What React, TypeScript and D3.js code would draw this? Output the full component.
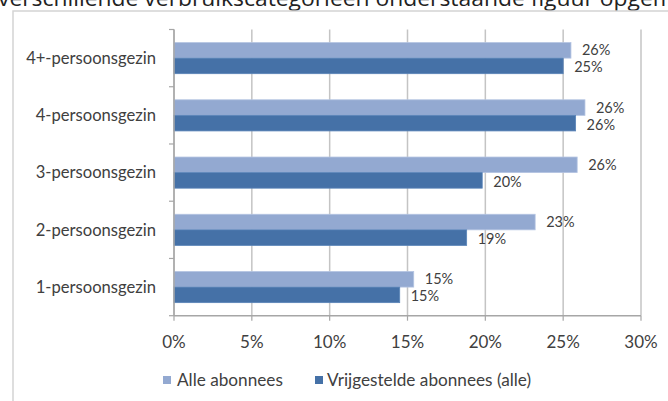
import React from "react";
import * as d3 from "d3";

const categories = ["4+-persoonsgezin", "4-persoonsgezin", "3-persoonsgezin", "2-persoonsgezin", "1-persoonsgezin"];
const seriesNames = ["Alle abonnees", "Vrijgestelde abonnees (alle)"];
const alleValues = [25.5, 26.4, 25.9, 23.2, 15.4];
const vrijValues = [25.0, 25.8, 19.8, 18.8, 14.5];
const xTicks = [0, 5, 10, 15, 20, 25, 30];
const headerText = "verschillende verbruikscategorieën  onderstaande  figuur opgem";

const W = 668, H = 401;
const colors = ["#93a9d1", "#4571a7"];
const FONT = "Lato, 'Open Sans', sans-serif";

export default function App() {
  const x = d3.scaleLinear().domain([0, 30]).range([174, 641]);
  const y = d3.scaleBand<string>().domain(categories).range([29.5, 315.7]).paddingInner(0.456).paddingOuter(0.228);
  const sub = d3.scaleBand<number>().domain([0, 1]).range([0, y.bandwidth()]);
  const series = [alleValues, vrijValues];
  const [y0, y1] = y.range();
  const step = y.step();
  const boundaries = d3.range(categories.length + 1).map((i) => y0 + i * step);

  return (
    <svg width={W} height={H} style={{ position: "absolute", left: 0, top: 0, background: "#fff" }}>
      <text x={-2} y={6} fontFamily="'Open Sans', sans-serif" fontSize={22} fill="#222" textLength={676} lengthAdjust="spacingAndGlyphs">
        {headerText}
      </text>
      <rect x={13} y={11} width={700} height={420} fill="#fff" stroke="#d4d4d4" strokeWidth={1.5} />
      {xTicks.map((t) => (
        <line key={"g" + t} x1={x(t)} x2={x(t)} y1={y0} y2={y1} stroke="#c4c4c4" strokeWidth={1.5} />
      ))}
      {series.map((vals, si) =>
        categories.map((c, ci) => (
          <rect
            key={si + "-" + ci}
            x={x(0)}
            y={(y(c) as number) + (sub(si) as number)}
            width={x(vals[ci]) - x(0)}
            height={sub.bandwidth()}
            fill={colors[si]}
            stroke={si === 0 ? "#b4c4e2" : "#5a84b8"}
            strokeWidth={0.8}
          />
        ))
      )}
      {series.map((vals, si) =>
        categories.map((c, ci) => (
          <text
            key={"l" + si + "-" + ci}
            x={x(vals[ci]) + 11}
            y={(y(c) as number) + (sub(si) as number) + sub.bandwidth() / 2 + (si === 0 ? 0 : 1.5)}
            dy="0.35em"
            fontFamily={FONT}
            fontSize={14.5}
            fill="#404040"
          >
            {Math.round(vals[ci]) + "%"}
          </text>
        ))
      )}
      {/* axes */}
      <line x1={x(0)} x2={x(0)} y1={y0} y2={y1} stroke="#a6a6a6" strokeWidth={1.5} />
      {boundaries.map((b, i) => (
        <line key={"yt" + i} x1={x(0) - 5} x2={x(0)} y1={b} y2={b} stroke="#a6a6a6" strokeWidth={1.2} />
      ))}
      <line x1={x(0)} x2={x(30)} y1={y1} y2={y1} stroke="#a6a6a6" strokeWidth={1.5} />
      {xTicks.map((t) => (
        <line key={"xt" + t} x1={x(t)} x2={x(t)} y1={y1} y2={y1 + 5} stroke="#a6a6a6" strokeWidth={1.2} />
      ))}
      {xTicks.map((t) => (
        <text key={"xl" + t} x={x(t)} y={342} dy="0.35em" textAnchor="middle" fontFamily={FONT} fontSize={17} fill="#404040">
          {t + "%"}
        </text>
      ))}
      {categories.map((c) => (
        <text key={"c" + c} x={156} y={(y(c) as number) + y.bandwidth() / 2} dy="0.35em" textAnchor="end" fontFamily={FONT} fontSize={16.6} fill="#404040">
          {c}
        </text>
      ))}
      {/* legend */}
      <rect x={163} y={376} width={8} height={8} fill={colors[0]} />
      <text x={177} y={380} dy="0.35em" fontFamily={FONT} fontSize={17.2} fill="#404040">{seriesNames[0]}</text>
      <rect x={315} y={376} width={8} height={8} fill={colors[1]} />
      <text x={327} y={380} dy="0.35em" fontFamily={FONT} fontSize={17.2} fill="#404040">{seriesNames[1]}</text>
    </svg>
  );
}
